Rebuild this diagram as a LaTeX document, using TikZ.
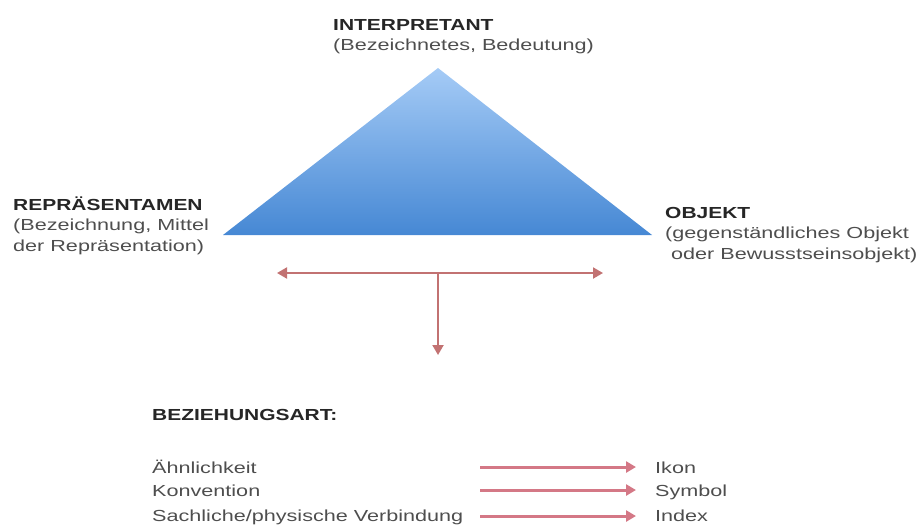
\documentclass[tikz,border=0pt]{standalone}
\usepackage{fontspec}
\setmainfont[FakeStretch=1.35, BoldFeatures={FakeStretch=1.31}]{Liberation Sans}
\usetikzlibrary{arrows.meta}
\usetikzlibrary{positioning}

\definecolor{lightblue}{RGB}{165,203,246}
\definecolor{deepblue}{RGB}{70,136,212}
\definecolor{teered}{RGB}{194,114,114}
\definecolor{listred}{RGB}{212,120,134}
\definecolor{headgray}{RGB}{38,38,38}
\definecolor{notegray}{RGB}{78,78,78}

\newcommand{\headword}[1]{\textcolor{headgray}{\textbf{#1}}}

\begin{document}
\begin{tikzpicture}
	[x=1pt, y=-1pt,
	 every node/.style={inner sep=0pt, anchor=base west, text=notegray,
	   font=\fontsize{16}{20.5}\selectfont},
	 corner/.style={align=left},
	 teearrow/.style={draw=teered, line width=2pt, -{Triangle[length=10pt,width=11pt]}},
	 listarrow/.style={draw=listred, line width=3pt, shorten >=19pt, -{Triangle[length=10pt,width=11pt]}}]
	\useasboundingbox (0,0) rectangle (920,528);
	% Zeichendreieck
	\coordinate (apex) at (438,68);
	\coordinate (baseL) at (223,235);
	\coordinate (baseR) at (652,235);
	\shade[top color=lightblue, bottom color=deepblue] (apex) -- (baseL) -- (baseR) -- cycle;
	% base anchor = letzte Zeile
	\node[corner] (interp) at (333,50.5) {\headword{INTERPRETANT}\\(Bezeichnetes, Bedeutung)};
	\node[corner] (repr) at (13,251) {\headword{REPRÄSENTAMEN}\\(Bezeichnung, Mittel\\der Repräsentation)};
	\node[corner] (objekt) at (665,259) {\headword{OBJEKT}\\(gegenständliches Objekt\\\ oder Bewusstseinsobjekt)};
	% T-Pfeil
	\coordinate (teeL) at (277,273);
	\coordinate (teeR) at (603,273);
	\coordinate (tee) at (438,273);
	\coordinate (teeDown) at (438,355);
	\draw[teearrow] (tee) -- (teeL);
	\draw[teearrow] (tee) -- (teeR);
	\draw[teearrow] (tee) -- (teeDown);
	% Beziehungsart
	\node (art) at (152,420) {\headword{BEZIEHUNGSART:}};
	\node (aehnl) at (152,473) {Ähnlichkeit};
	\node (konv) at (152,496) {Konvention};
	\node (sach) at (152,521) {Sachliche/physische Verbindung};
	\node (ikon) at (655,473) {Ikon};
	\node (symbol) at (655,496) {Symbol};
	\node (index) at (655,521) {Index};
	\coordinate (a1) at (480,467);
	\coordinate (a2) at (480,490);
	\coordinate (a3) at (480,516);
	\draw[listarrow] (a1) -- (a1 -| ikon.west);
	\draw[listarrow] (a2) -- (a2 -| symbol.west);
	\draw[listarrow] (a3) -- (a3 -| index.west);
\end{tikzpicture}
\end{document}
